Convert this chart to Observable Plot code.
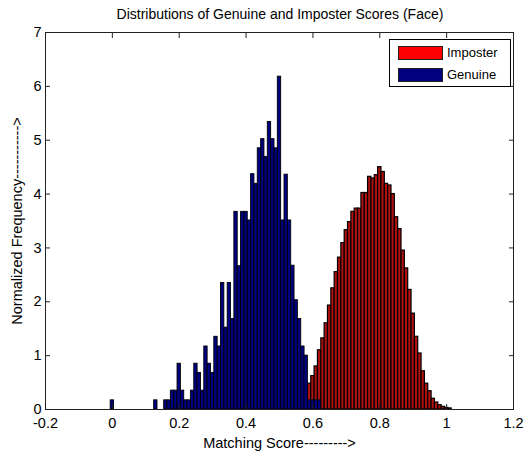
<!DOCTYPE html>
<html>
<head>
<meta charset="utf-8">
<script src="https://cdn.jsdelivr.net/npm/d3@7"></script>
<script src="https://cdn.jsdelivr.net/npm/@observablehq/plot@0.6"></script>
<style>
  html, body { margin: 0; padding: 0; background: #fff; }
  #wrap { position: relative; width: 528px; height: 457px; font-family: "Liberation Sans", Arial, sans-serif; }
  #title { position: absolute; left: 45px; width: 470px; top: 6px; text-align: center; font-size: 14px; color: #000; }
  #legend { position: absolute; left: 389px; top: 39px; width: 122px; height: 48px; border: 1px solid #000; background: #fff; box-sizing: border-box; font-size: 13px; }
  .row { position: absolute; left: 8px; display: flex; align-items: center; }
  .sw { width: 45px; height: 14px; border: 1px solid #222; box-sizing: border-box; margin-right: 4px; }
</style>
</head>
<body>
<div id="wrap">
  <div id="chart"></div>
  <div id="title">Distributions of Genuine and Imposter Scores (Face)</div>
  <div id="legend">
    <div class="row" style="top:5px"><div class="sw" style="background:#ff0000"></div><span>Imposter</span></div>
    <div class="row" style="top:27px"><div class="sw" style="background:#000080"></div><span>Genuine</span></div>
  </div>
</div>
<script>
// Bin centers and normalized frequencies (bin width 0.01)
const genuineCenters = [0, 0.13, 0.16, 0.17, 0.18, 0.19, 0.20, 0.21, 0.22, 0.23, 0.24, 0.25, 0.26, 0.27, 0.28, 0.29, 0.30, 0.31, 0.32, 0.33, 0.34, 0.35, 0.36, 0.37, 0.38, 0.39, 0.40, 0.41, 0.42, 0.43, 0.44, 0.45, 0.46, 0.47, 0.48, 0.49, 0.50, 0.51, 0.52, 0.53, 0.54, 0.55, 0.56, 0.57, 0.58, 0.59, 0.60, 0.61, 0.62];
const genuineValues  = [0.17, 0.17, 0.17, 0.17, 0.35, 0.35, 0.85, 0.35, 0.17, 0.17, 0.35, 0.85, 0.68, 0.35, 1.17, 0.85, 0.68, 1.35, 1.17, 2.35, 1.52, 2.35, 1.68, 3.67, 2.66, 3.67, 3.67, 3.51, 4.37, 4.19, 4.85, 5.02, 4.69, 5.34, 5.02, 4.85, 6.18, 3.51, 4.36, 3.51, 2.67, 2.03, 1.68, 1.17, 1.00, 0.17, 0.17, 0.17, 0.17];

const imposterCenters = [0.59, 0.60, 0.61, 0.62, 0.63, 0.64, 0.65, 0.66, 0.67, 0.68, 0.69, 0.70, 0.71, 0.72, 0.73, 0.74, 0.75, 0.76, 0.77, 0.78, 0.79, 0.80, 0.81, 0.82, 0.83, 0.84, 0.85, 0.86, 0.87, 0.88, 0.89, 0.90, 0.91, 0.92, 0.93, 0.94, 0.95, 0.96, 0.97, 0.98, 0.99, 1.00, 1.01];
const imposterValues  = [0.48, 0.62, 0.80, 1.10, 1.32, 1.60, 1.93, 2.25, 2.55, 2.82, 3.09, 3.33, 3.48, 3.67, 3.73, 3.73, 4.02, 4.02, 4.32, 4.29, 4.35, 4.50, 4.41, 4.19, 4.16, 4.00, 3.57, 3.35, 2.95, 2.62, 2.22, 1.78, 1.35, 1.04, 0.71, 0.48, 0.34, 0.20, 0.13, 0.08, 0.05, 0.03, 0.02];

const binWidth = 0.01;
const xTicks = [-0.2, 0, 0.2, 0.4, 0.6, 0.8, 1, 1.2];
const yTicks = [0, 1, 2, 3, 4, 5, 6, 7];

const genuine = genuineCenters.map((c, i) => ({c, v: genuineValues[i]}));
const imposter = imposterCenters.map((c, i) => ({c, v: imposterValues[i]}));
const fmt = d => String(Math.round(d * 10) / 10);

const chart = Plot.plot({
  width: 528,
  height: 457,
  marginTop: 32,
  marginLeft: 45,
  marginRight: 15,
  marginBottom: 48,
  style: {fontFamily: "'Liberation Sans', Arial, sans-serif", fontSize: "14px", color: "#000", background: "#fff"},
  x: {domain: [-0.2, 1.2]},
  y: {domain: [0, 7]},
  marks: [
    Plot.rectY(imposter, {x1: d => d.c - binWidth / 2, x2: d => d.c + binWidth / 2, y: "v", fill: "#b01010", stroke: "#000", strokeWidth: 1.2}),
    Plot.rectY(genuine, {x1: d => d.c - binWidth / 2, x2: d => d.c + binWidth / 2, y: "v", fill: "#000080", stroke: "#000", strokeWidth: 0.9}),
    Plot.frame({stroke: "#222"}),
    Plot.axisX({ticks: xTicks, tickSize: 0, tickPadding: 8, tickFormat: fmt, fontSize: 14.5,
      label: "Matching Score--------->", labelAnchor: "center", labelArrow: "none", labelOffset: 38}),
    Plot.axisX({ticks: xTicks, tickSize: -5, tickFormat: () => "", stroke: "#222"}),
    Plot.axisX({ticks: xTicks, anchor: "top", tickSize: -5, tickFormat: () => "", label: null, stroke: "#222"}),
    Plot.axisY({ticks: yTicks, tickSize: 0, tickPadding: 4, tickFormat: fmt, fontSize: 14.5,
      label: "Normalized Frequency----------->", labelAnchor: "center", labelArrow: "none", labelOffset: 34}),
    Plot.axisY({ticks: yTicks, tickSize: -5, tickFormat: () => "", label: null, stroke: "#222"}),
    Plot.axisY({ticks: yTicks, anchor: "right", tickSize: -5, tickFormat: () => "", label: null, stroke: "#222"})
  ]
});
document.getElementById("chart").appendChild(chart);
</script>
</body>
</html>
